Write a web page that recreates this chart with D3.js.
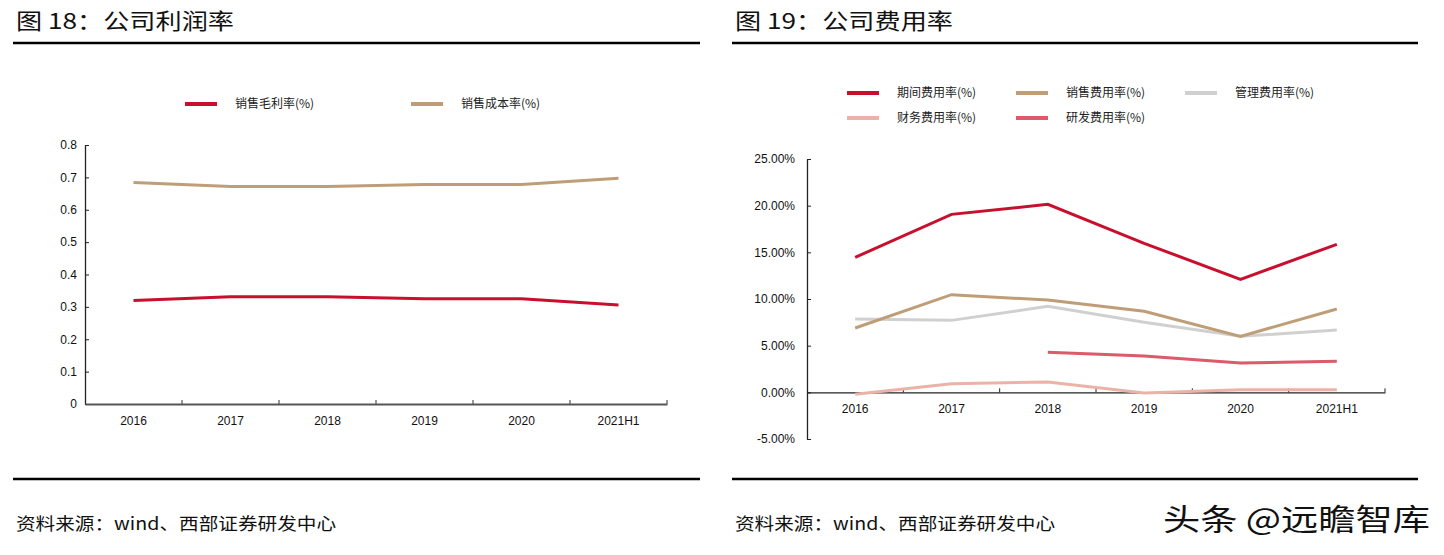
<!DOCTYPE html>
<html><head><meta charset="utf-8">
<script src="https://cdn.jsdelivr.net/npm/d3@7"></script>
<style>
body{margin:0;background:#fff;}
svg{display:block;}
text{font-family:Arial,"Liberation Sans","Noto Sans CJK SC",sans-serif;}
.cjk{font-family:"Noto Sans CJK SC",sans-serif;}
</style></head><body>
<svg id="c" width="1444" height="555"></svg>
<script>
const categories = ["2016","2017","2018","2019","2020","2021H1"];
// Chart 18
const grossMargin = [0.320,0.331,0.331,0.325,0.325,0.306];
const costRate    = [0.684,0.672,0.672,0.678,0.678,0.697];
const leftTicks = [0,0.1,0.2,0.3,0.4,0.5,0.6,0.7,0.8];
// Chart 19 (%)
const periodRate  = [14.46,19.07,20.14,15.96,12.11,15.86];
const salesRate   = [6.89,10.46,9.89,8.68,6.00,8.93];
const adminRate   = [7.86,7.71,9.21,7.50,6.00,6.68];
const financeRate = [-0.21,0.93,1.11,-0.07,0.29,0.29];
const rdRate      = [null,null,4.29,3.89,3.14,3.32];
const rightTicks = [-5,0,5,10,15,20,25];

const svg = d3.select("#c");

function header(x0,x1,title){
  svg.append("text").attr("class","cjk").attr("x",x0+3).attr("y",29).attr("font-size",22).attr("fill","#111")
    .attr("textLength",218).attr("lengthAdjust","spacingAndGlyphs").text(title);
  svg.append("line").attr("x1",x0).attr("x2",x1).attr("y1",43).attr("y2",43).attr("stroke","#000").attr("stroke-width",2.5);
  svg.append("line").attr("x1",x0).attr("x2",x1).attr("y1",479).attr("y2",479).attr("stroke","#000").attr("stroke-width",2.5);
  svg.append("text").attr("class","cjk").attr("x",x0+3).attr("y",530).attr("font-size",17).attr("fill","#111")
    .attr("textLength",320).attr("lengthAdjust","spacingAndGlyphs").text("资料来源：wind、西部证券研发中心");
}
header(13,700,"图 18：公司利润率");
header(732,1418,"图 19：公司费用率");
svg.append("text").attr("class","cjk").attr("x",1163).attr("y",530).attr("font-size",30).attr("fill","#111")
  .attr("textLength",267).attr("lengthAdjust","spacingAndGlyphs").text("头条 @远瞻智库");

// ---------- Chart 18 ----------
{
  const x = d3.scaleBand().domain(categories).range([85,667]);
  const y = d3.scaleLinear().domain([0,0.8]).range([404,145]);
  const g = svg.append("g");
  const ya = g.append("g").attr("transform","translate(85,0)")
    .call(d3.axisRight(y).tickValues(leftTicks).tickFormat(d=>d3.format("")(d)).tickSize(4).tickSizeOuter(0));
  ya.select(".domain").attr("stroke","#222").attr("stroke-width",1.3);
  ya.selectAll(".tick line").attr("stroke","#222");
  ya.selectAll(".tick text").attr("x",-8).attr("text-anchor","end").attr("font-size",12).attr("fill","#111");
  const xa = g.append("g").attr("transform","translate(0,404)")
    .call(d3.axisTop(x).tickSize(0).tickSizeOuter(0));
  xa.select(".domain").attr("stroke","#555").attr("stroke-width",2);
  xa.selectAll(".tick text").attr("y",17).attr("dy","0.35em").attr("font-size",12).attr("fill","#111");
  const bounds = categories.map(c=>x(c)+x.bandwidth());
  g.selectAll(".xt").data(bounds).join("line").attr("x1",d=>d).attr("x2",d=>d).attr("y1",404).attr("y2",400).attr("stroke","#555").attr("stroke-width",1.2);
  const line = d3.line().x((d,i)=>x(categories[i])+x.bandwidth()/2).y(d=>y(d));
  g.append("path").attr("d",line(costRate)).attr("fill","none").attr("stroke","#BF9E77").attr("stroke-width",3);
  g.append("path").attr("d",line(grossMargin)).attr("fill","none").attr("stroke","#C8102E").attr("stroke-width",3);
  const leg = [["销售毛利率(%)","#C8102E",185],["销售成本率(%)","#BF9E77",411]];
  leg.forEach(([t,c,lx])=>{
    g.append("line").attr("x1",lx).attr("x2",lx+32).attr("y1",104).attr("y2",104).attr("stroke",c).attr("stroke-width",4);
    g.append("text").attr("class","cjk").attr("x",lx+50).attr("y",104).attr("dy","0.35em").attr("font-size",12).attr("fill","#222").text(t);
  });
}

// ---------- Chart 19 ----------
{
  const x = d3.scaleBand().domain(categories).range([807,1385]);
  const y = d3.scaleLinear().domain([-5,25]).range([439,159]);
  const g = svg.append("g");
  const ya = g.append("g").attr("transform","translate(807,0)")
    .call(d3.axisRight(y).tickValues(rightTicks).tickFormat(d=>d.toFixed(2)+"%").tickSize(4).tickSizeOuter(0));
  ya.select(".domain").attr("stroke","#222").attr("stroke-width",1.3);
  ya.selectAll(".tick line").attr("stroke","#222");
  ya.selectAll(".tick text").attr("x",-12).attr("text-anchor","end").attr("font-size",12).attr("fill","#111");
  const y0 = y(0);
  const xa = g.append("g").attr("transform",`translate(0,${y0})`)
    .call(d3.axisTop(x).tickSize(0).tickSizeOuter(0));
  xa.select(".domain").attr("stroke","#222").attr("stroke-width",1.3);
  xa.selectAll(".tick text").attr("y",16).attr("dy","0.35em").attr("font-size",12).attr("fill","#111");
  const bounds = categories.map(c=>x(c)+x.bandwidth());
  g.selectAll(".xt").data(bounds).join("line").attr("x1",d=>d).attr("x2",d=>d).attr("y1",y0).attr("y2",y0-4).attr("stroke","#222").attr("stroke-width",1);
  const line = d3.line().defined(d=>d!=null).x((d,i)=>x(categories[i])+x.bandwidth()/2).y(d=>y(d));
  const series = [
    ["期间费用率(%)",periodRate,"#C8102E"],
    ["销售费用率(%)",salesRate,"#BF9E77"],
    ["管理费用率(%)",adminRate,"#D0D0D0"],
    ["财务费用率(%)",financeRate,"#EBB3A8"],
    ["研发费用率(%)",rdRate,"#DC5A6A"]
  ];
  const drawOrder = [2,1,3,4,0];
  drawOrder.forEach(i=>{
    const [n,v,c]=series[i];
    g.append("path").attr("d",line(v)).attr("fill","none").attr("stroke",c).attr("stroke-width",3);
  });
  const lxs=[847,1016,1185], lys=[93,118];
  series.forEach(([n,v,c],i)=>{
    const lx=lxs[i%3], ly=lys[Math.floor(i/3)];
    g.append("line").attr("x1",lx).attr("x2",lx+32).attr("y1",ly).attr("y2",ly).attr("stroke",c).attr("stroke-width",4);
    g.append("text").attr("class","cjk").attr("x",lx+50).attr("y",ly).attr("dy","0.35em").attr("font-size",12).attr("fill","#222").text(n);
  });
}
</script>
</body></html>
